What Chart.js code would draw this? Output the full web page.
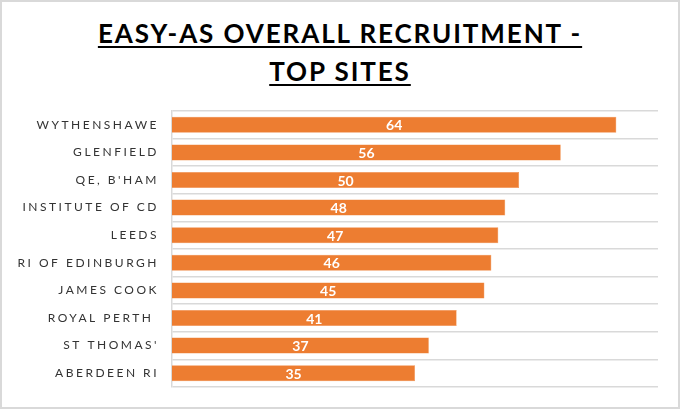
<!DOCTYPE html>
<html>
<head>
<meta charset="utf-8">
<script src="https://cdn.jsdelivr.net/npm/chart.js@4/dist/chart.umd.min.js"></script>
<style>
  html, body { margin: 0; padding: 0; background: #fff; }
  #wrap {
    position: relative; width: 680px; height: 409px;
    box-sizing: border-box; border: 2px solid #d9d9d9; background: #fff;
  }
  #title {
    position: absolute; left: 0; top: 12px; width: 676px; text-align: center;
    font-family: Lato, "Open Sans", sans-serif; font-weight: bold; font-size: 26px;
    line-height: 38px; letter-spacing: 1.9px; color: #000;
    text-decoration: underline; text-decoration-thickness: 2px; text-underline-offset: 3px;
  }
  canvas { position: absolute; left: -2px; top: -2px; }
</style>
</head>
<body>
<div id="wrap">
  <div id="title">EASY-AS OVERALL RECRUITMENT -<br>TOP SITES</div>
  <canvas id="recruitChart" width="680" height="409"></canvas>
</div>
<script>
// Sites and recruitment numbers
const sites = ['WYTHENSHAWE', 'GLENFIELD', "QE, B'HAM", 'INSTITUTE OF CD', 'LEEDS',
               'RI OF EDINBURGH', 'JAMES COOK', 'ROYAL PERTH ', "ST THOMAS'", 'ABERDEEN RI'];
const recruited = [64, 56, 50, 48, 47, 46, 45, 41, 37, 35];
const axisMax = 70;

// letter-spaced category labels, plain value labels inside the bars
const spacingPlugin = {
    id: 'spacing',
    beforeDraw(chart) {
        chart.ctx.letterSpacing = '2.5px';
    },
    afterDatasetsDraw(chart) {
        const ctx = chart.ctx;
        const meta = chart.getDatasetMeta(0);
        ctx.save();
        ctx.letterSpacing = '0px';
        ctx.font = 'bold 14px Lato, "Open Sans", sans-serif';
        ctx.fillStyle = '#ffffff';
        ctx.textAlign = 'center';
        ctx.textBaseline = 'middle';
        meta.data.forEach((bar, i) => {
            const xMid = (bar.x + bar.base) / 2;
            ctx.fillText(String(recruited[i]), xMid, bar.y + 1);
        });
        ctx.restore();
    }
};

new Chart(document.getElementById('recruitChart'), {
    type: 'bar',
    data: {
        labels: sites,
        datasets: [{
            data: recruited,
            backgroundColor: '#ed7d31',
            borderColor: '#f08a45',
            borderWidth: 0.5,
            categoryPercentage: 1,
            barPercentage: 0.58
        }]
    },
    options: {
        indexAxis: 'y',
        responsive: false,
        animation: false,
        layout: { padding: { top: 111, bottom: 22, right: 22, left: 0 } },
        scales: {
            x: {
                display: false,
                min: 0,
                max: axisMax
            },
            y: {
                afterFit(scale) { scale.width = 172; },
                grid: { color: '#d9d9d9', lineWidth: 1.5, drawTicks: false },
                border: { display: true, color: '#d9d9d9', width: 1.5 },
                ticks: {
                    color: '#333333',
                    padding: 13,
                    font: { family: 'Lato, "Open Sans", sans-serif', size: 12 }
                }
            }
        },
        plugins: {
            legend: { display: false },
            tooltip: { enabled: false }
        }
    },
    plugins: [spacingPlugin]
});
</script>
</body>
</html>
